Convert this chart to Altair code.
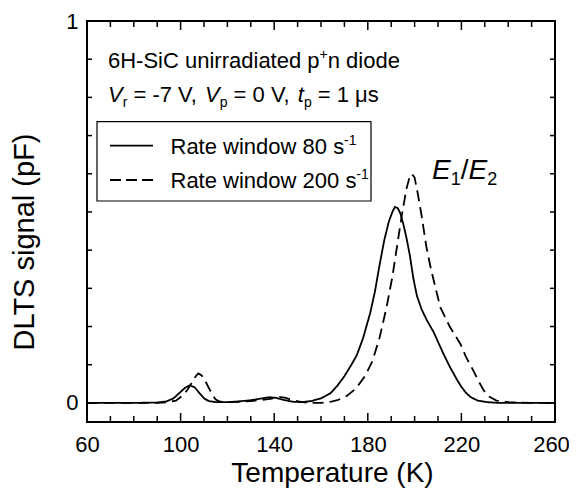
import altair as alt
import pandas as pd

# ---------------- data ----------------
SERIES = ["Rate window 80 s-1", "Rate window 200 s-1"]

T_80 = [60, 70, 80, 90, 94, 97, 100, 102, 104, 106, 108, 110, 112, 115, 120, 125, 130, 134,
        138, 141, 144, 148, 152, 156, 160, 164, 167, 170, 173, 175.3, 178, 181, 183, 185, 187,
        189, 190.5, 191.6, 192.8, 194, 195.3, 196.6, 198, 199.5, 201, 203, 205.2, 208, 210,
        212.3, 215, 218, 220, 222, 224, 227, 231, 236, 245, 260]
V_80 = [0, 0, 0, 0.001, 0.004, 0.012, 0.029, 0.040, 0.046, 0.041, 0.026, 0.012, 0.005, 0.002,
        0.002, 0.004, 0.007, 0.011, 0.015, 0.013, 0.008, 0.003, 0.002, 0.005, 0.012, 0.025,
        0.045, 0.070, 0.100, 0.125, 0.170, 0.235, 0.290, 0.360, 0.425, 0.475, 0.500, 0.513,
        0.510, 0.495, 0.465, 0.430, 0.385, 0.325, 0.280, 0.245, 0.217, 0.187, 0.160, 0.129,
        0.095, 0.062, 0.042, 0.026, 0.015, 0.006, 0.002, 0, 0, 0]

T_200 = [60, 70, 80, 90, 95, 98, 101, 103, 105, 106.5, 107.6, 109, 110.5, 112, 113.5, 115, 117,
         120, 125, 130, 135, 139, 142, 145, 148, 152, 156, 160, 164, 167, 171, 175, 179, 182,
         185, 188, 190.5, 192.5, 194.5, 196.5, 197.8, 198.8, 200, 201.3, 203, 205, 207, 209,
         211, 213, 215, 217, 219.5, 222, 225, 227.5, 229.5, 232, 235, 240, 250, 260]
V_200 = [0, 0, 0, 0, 0.002, 0.006, 0.020, 0.035, 0.055, 0.070, 0.077, 0.072, 0.058, 0.040,
         0.022, 0.009, 0.003, 0.002, 0.003, 0.005, 0.008, 0.011, 0.016, 0.013, 0.007, 0.002,
         0.0, 0.0, 0.003, 0.007, 0.018, 0.038, 0.072, 0.110, 0.170, 0.250, 0.330, 0.410,
         0.490, 0.560, 0.590, 0.600, 0.590, 0.550, 0.490, 0.410, 0.350, 0.300, 0.250, 0.225,
         0.200, 0.180, 0.155, 0.120, 0.086, 0.055, 0.033, 0.016, 0.006, 0.002, 0, 0]

X_LABELS = [60, 100, 140, 180, 220, 260]
X_TICKS = [60, 70, 80, 90, 100, 110, 120, 130, 140, 150, 160, 170, 180, 190, 200, 210,
           220, 230, 240, 250, 260]
Y_LABELS = [0, 1]
Y_TICKS = [0, 0.1, 0.2, 0.3, 0.4, 0.5, 0.6, 0.7, 0.8, 0.9, 1.0]

# ---------------- layout ----------------
W, H = 468, 401
FONT = "Liberation Sans"
XS = alt.Scale(domain=[60, 260], nice=False, zero=False)
YS = alt.Scale(domain=[-0.05, 1], nice=False, zero=False)
AX_X = alt.Axis(values=X_LABELS, format="d", ticks=False, domain=False, grid=False, title=None,
                labelFont=FONT, labelFontSize=22, labelColor="black", labelPadding=12,
                labelFlush=False,
                labelOffset={"condition": {"test": "datum.value == 260", "value": -4}, "value": 0})
AX_Y = alt.Axis(values=Y_LABELS, format="d", ticks=False, domain=False, grid=False, title=None,
                labelFont=FONT, labelFontSize=22, labelColor="black", labelPadding=9,
                labelFlush=False)

df = pd.concat([
    pd.DataFrame({"T": T_80, "V": V_80, "series": SERIES[0]}),
    pd.DataFrame({"T": T_200, "V": V_200, "series": SERIES[1]}),
])

curves = alt.Chart(df).mark_line(color="black", strokeWidth=1.8).encode(
    x=alt.X("T:Q", scale=XS, axis=AX_X),
    y=alt.Y("V:Q", scale=YS, axis=AX_Y),
    strokeDash=alt.StrokeDash("series:N", scale=alt.Scale(domain=SERIES, range=[[1, 0], [11, 6]]),
                              legend=None),
    order="T:Q",
)

major = set(X_LABELS)
xt = pd.DataFrame({"T": X_TICKS, "len": [9 if t in major else 6 for t in X_TICKS]})
yt = pd.DataFrame({"V": Y_TICKS, "len": [9 if v in (0, 1) else 5 for v in Y_TICKS]})
xt_major = xt[xt["len"] == 9]
xt_minor = xt[xt["len"] == 6]
yt_major = yt[yt["len"] == 9]
yt_minor = yt[yt["len"] == 5]

def xrule(data, y0, y1):
    return alt.Chart(data).mark_rule(color="black", strokeWidth=1.5).encode(
        x=alt.X("T:Q", scale=XS, axis=AX_X), y=alt.value(y0), y2=alt.value(y1))

def yrule(data, x0, x1):
    return alt.Chart(data).mark_rule(color="black", strokeWidth=1.5).encode(
        y=alt.Y("V:Q", scale=YS, axis=AX_Y), x=alt.value(x0), x2=alt.value(x1))

ticks = [
    xrule(xt_major, H, H - 9), xrule(xt_minor, H, H - 6),
    xrule(xt_major, 0, 9), xrule(xt_minor, 0, 6),
    yrule(yt_major, 0, 9), yrule(yt_minor, 0, 5),
    yrule(yt_major, W, W - 9), yrule(yt_minor, W, W - 5),
]

# ---------------- text helpers ----------------
ADV = {' ': 278, '+': 584, ',': 278, '-': 333, '.': 278, '/': 278, '=': 584,
       'C': 722, 'E': 667, 'H': 722, 'R': 722, 'S': 667, 'V': 667,
       'a': 556, 'd': 556, 'e': 556, 'i': 222, 'n': 556, 'o': 556, 'p': 556, 'r': 333,
       's': 500, 't': 278, 'u': 556, 'w': 722, 'μ': 576}

def adv(s, size):
    return sum(ADV.get(c, 556) for c in s) * size / 1000.0

def txt(s, x, y, size, italic=False, align="left", baseline="alphabetic", angle=0):
    return alt.Chart(pd.DataFrame({"s": [s]})).mark_text(
        align=align, baseline=baseline, font=FONT, fontSize=size, angle=angle,
        fontStyle="italic" if italic else "normal", color="black").encode(
        x=alt.value(x), y=alt.value(y), text="s:N")

def rich(pieces, x0, y0):
    out = []
    x = x0
    for s, size, italic, dy in pieces:
        lead = len(s) - len(s.lstrip(" "))
        xd = x + adv(" " * lead, size)
        out.append(txt(s.strip(" "), xd, y0 + dy, size, italic))
        x += adv(s, size)
    return out

SUP, SUB = -9, 5
texts = []
texts += rich([("6H-SiC unirradiated p", 22, False, 0), ("+", 14, False, SUP),
               ("n diode", 22, False, 0)], 21, 46.5)
texts += rich([("V", 22, True, 0), ("r", 14, False, SUB), (" = -7 V, ", 22, False, 0),
               ("V", 22, True, 0), ("p", 14, False, SUB), (" = 0 V, ", 22, False, 0),
               ("t", 22, True, 0), ("p", 14, False, SUB), (" = 1 μs", 22, False, 0)], 21, 80.7)
texts += rich([("E", 28, True, 0), ("1", 18, False, 6), ("/", 28, False, 0),
               ("E", 28, True, 0), ("2", 18, False, 6)], 345, 158)

# legend (drawn by hand)
legend_box = alt.Chart(pd.DataFrame({"a": [0]})).mark_rect(
    fill="white", stroke="black", strokeWidth=1.2).encode(
    x=alt.value(10), x2=alt.value(284), y=alt.value(100.7), y2=alt.value(180))
leg_solid = alt.Chart(pd.DataFrame({"a": [0]})).mark_rule(color="black", strokeWidth=1.8).encode(
    x=alt.value(23), x2=alt.value(66), y=alt.value(124.7))
leg_dash = alt.Chart(pd.DataFrame({"a": [0]})).mark_rule(
    color="black", strokeWidth=1.8, strokeDash=[11, 5]).encode(
    x=alt.value(23), x2=alt.value(66), y=alt.value(159))
legend = [legend_box, leg_solid, leg_dash]
legend += rich([("Rate window 80 s", 22, False, 0), ("-1", 14, False, SUP)], 83.5, 132.5)
legend += rich([("Rate window 200 s", 22, False, 0), ("-1", 14, False, SUP)], 83.5, 166.5)

# axis titles
titles = [
    txt("Temperature (K)", 245.5, 460.5, 28, align="center"),
    txt("DLTS signal (pF)", -62, 221, 29, align="center", baseline="middle", angle=270),
]

chart = alt.layer(curves, *ticks, *legend, *texts, *titles).properties(
    width=W, height=H,
    background="white",
    autosize=alt.AutoSizeParams(type="none"),
    padding={"left": 79, "top": 13, "right": 14, "bottom": 66},
).configure_view(stroke="black", strokeWidth=2)

chart.save("out.html", embed_options={"renderer": "svg", "actions": False})
